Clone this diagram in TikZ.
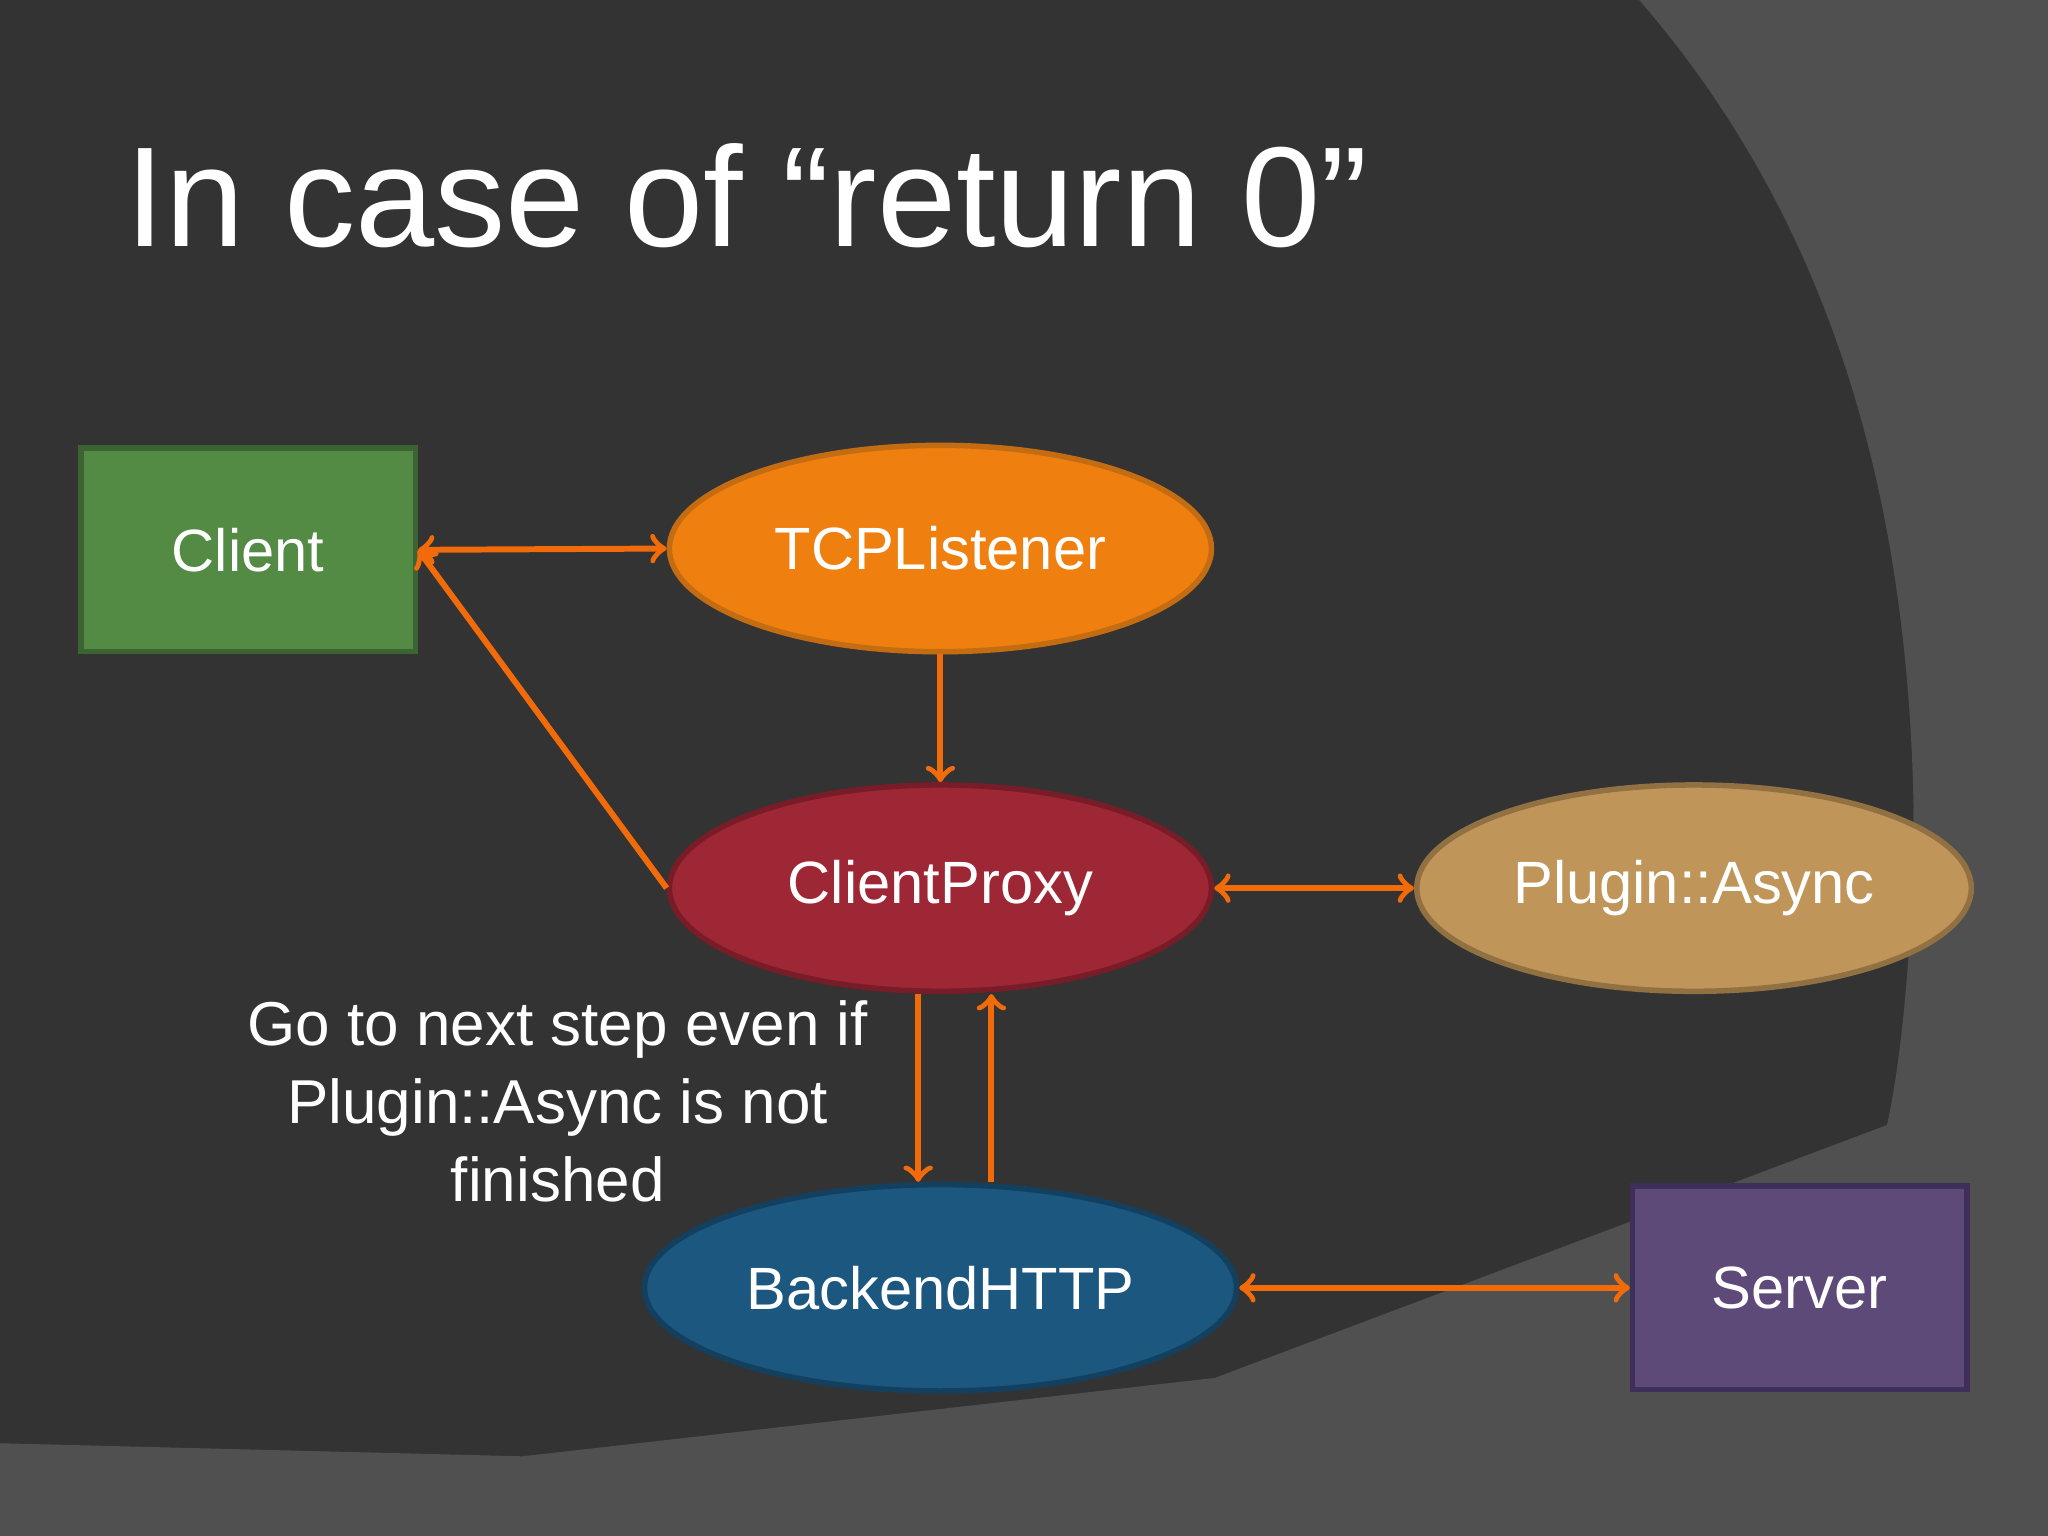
\documentclass[tikz,border=0pt]{standalone}
\usepackage{fontspec}
\setmainfont{Liberation Sans}
\usetikzlibrary{shapes, positioning, arrows}
\definecolor{slidebg}{HTML}{333333}
\definecolor{slideband}{HTML}{505050}
\definecolor{arrowc}{HTML}{F26B0A}
\tikzset{
  box/.style={draw, line width=1.2pt, minimum width=2.56cm, minimum height=1.56cm, text=white, font=\fontsize{13}{15}\selectfont},
  oval/.style={ellipse, draw, line width=1.2pt, minimum width=4.15cm, minimum height=1.58cm, text=white, font=\fontsize{13}{15}\selectfont},
  link/.style={draw=arrowc, line width=1.3pt, -to}
}
\begin{document}
\begin{tikzpicture}
          % Slide background and bands
          \useasboundingbox (0,0) rectangle (15.68,11.76);
          \fill[slidebg] (0,0) rectangle (15.68,11.76);
          \fill[slideband] (12.55,11.76) .. controls (13.9,10.2) and (14.6,8.2) .. (14.65,5.6) .. controls (14.65,4.5) and (14.55,3.5) .. (14.4,2.95) -- (15.68,3.61) -- (15.68,11.76) -- cycle;
          \fill[slideband] (0,0.71) -- (4.0,0.61) -- (9.3,1.21) -- (15.68,3.61) -- (15.68,0) -- (0,0) -- cycle;
          \node[anchor=west, text=white, font=\fontsize{31}{36}\selectfont] (title) at (0.84,10.26) {In case of “return 0”};

          % Components
          \node (client) [box, fill={rgb,255:red,83;green,138;blue,68}, draw={rgb,255:red,60;green,100;blue,50}] at (1.90,7.55) {Client};
          \node (tcp) [oval, fill={rgb,255:red,239;green,128;blue,16}, draw={rgb,255:red,196;green,108;blue,18}] at (7.20,7.56) {TCPListener};
          \node (proxy) [oval, fill={rgb,255:red,158;green,39;blue,54}, draw={rgb,255:red,120;green,28;blue,40}] at (7.20,4.96) {ClientProxy};
          \node (plugin) [oval, fill={rgb,255:red,192;green,149;blue,90}, draw={rgb,255:red,145;green,112;blue,66}] at (12.97,4.96) {Plugin::Async};
          \node (backend) [oval, fill={rgb,255:red,27;green,87;blue,127}, draw={rgb,255:red,20;green,64;blue,96}] at (7.20,1.90) {BackendHTTP};
          \node (server) [box, fill={rgb,255:red,94;green,74;blue,120}, draw={rgb,255:red,62;green,46;blue,90}] at (13.78,1.90) {Server};

          % Note
          \node (note) [text=white, align=center, font=\fontsize{13.5}{17}\selectfont] at (4.27,3.33) {Go to next step even if\\Plugin::Async is not\\finished};

          % Connectors
          \draw [link, to-to] (client.east) -- (tcp.west);
          \draw [link] (proxy.west) -- (client.east);
          \draw [link] (tcp.south) -- (proxy.north);
          \draw [link, to-to] (proxy.east) -- (plugin.west);
          \draw [link] ([xshift=-0.17cm]proxy.south) -- ([xshift=-0.17cm]backend.north);
          \draw [link] ([xshift=0.39cm]backend.north) -- ([xshift=0.39cm]proxy.south);
          \draw [link, to-to] (backend.east) -- (server.west);
\end{tikzpicture}
\end{document}
